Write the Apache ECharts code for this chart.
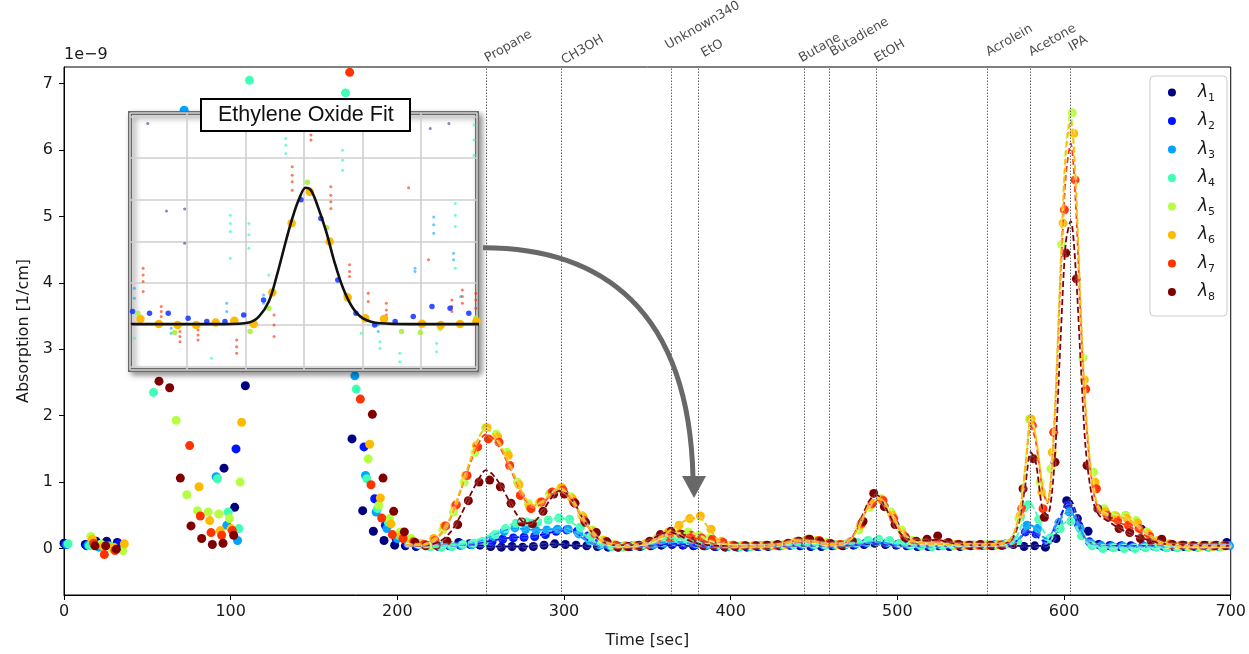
<!DOCTYPE html>
<html>
<head>
<meta charset="utf-8">
<script src="https://cdn.jsdelivr.net/npm/echarts@6.0.0/dist/echarts.min.js"></script>
<style>
html, body { margin: 0; padding: 0; background: #fff; }
#chart { width: 1249px; height: 654px; }
</style>
</head>
<body>
<div id="chart"></div>
<script>
// ---------------- data ----------------
const lambdaNames = ['λ1', 'λ2', 'λ3', 'λ4', 'λ5', 'λ6', 'λ7', 'λ8'];
const lambdaColors = ['#000080', '#0014ff', '#00a4ff', '#40ffb5', '#b5ff40', '#ffba00', '#ff3300', '#800000'];

// one scan cycle takes 6.4 s; each wavelength is read a little later inside the cycle
const CYCLE = 6.4;
const scanOffset = [0, 0.8, 1.7, 2.5, 3.3, 4.2, 5.0, 5.8];

// absorption (x1e-9 1/cm) per scan cycle, one array per wavelength
const l1 = [
  0.08, null, 0.06, 0.11, 0.11, 0.09, null, null, 4.2, 5.0,
  4.8, 5.2, 4.5, 3.9, 3.3, 1.21, 0.62, 2.45, 3.6, 4.8,
  5.5, 6.0, 6.3, 5.9, 5.2, 4.4, 3.4, 1.65, 0.57, 0.26,
  0.12, 0.05, 0.04, 0.03, 0.05, 0.04, 0.06, 0.09, 0.07, 0.05,
  0.03, 0.02, 0.03, 0.02, 0.03, 0.05, 0.07, 0.06, 0.05, 0.04,
  0.03, 0.02, 0.02, 0.03, 0.03, 0.04, 0.05, 0.06, 0.05, 0.04,
  0.04, 0.03, 0.02, 0.03, 0.02, 0.03, 0.03, 0.04, 0.05, 0.04,
  0.03, 0.03, 0.04, 0.04, 0.05, 0.06, 0.08, 0.06, 0.05, 0.04,
  0.03, 0.03, 0.04, 0.03, 0.03, 0.04, 0.05, 0.04, 0.05, 0.06,
  0.03, 0.04, 0.02, 0.15, 0.72, 0.45, 0.26, 0.06, 0.04, 0.03,
  0.04, 0.29, 0.06, 0.04, 0.03, 0.03, 0.03, 0.04, 0.05, 0.09
];
const l2 = [
  0.06, null, 0.04, 0.06, 0.05, 0.07, null, null, 3.9, 4.6,
  4.5, 4.8, 4.1, 3.5, 3.0, 2.9, 1.5, 3.4, 4.2, 5.1,
  5.8, 6.2, 6.0, 5.6, 4.9, 4.1, 3.3, 3.0, 1.53, 0.75,
  0.35, 0.15, 0.08, 0.05, 0.04, 0.03, 0.04, 0.05, 0.06, 0.08,
  0.1, 0.14, 0.16, 0.17, 0.18, 0.21, 0.26, 0.28, 0.26, 0.19,
  0.09, 0.05, 0.03, 0.03, 0.04, 0.05, 0.07, 0.08, 0.06, 0.05,
  0.04, 0.03, 0.03, 0.02, 0.03, 0.03, 0.04, 0.04, 0.05, 0.05,
  0.04, 0.04, 0.05, 0.05, 0.06, 0.08, 0.1, 0.08, 0.06, 0.05,
  0.04, 0.04, 0.05, 0.04, 0.04, 0.05, 0.05, 0.05, 0.06, 0.1,
  0.25, 0.22, 0.1, 0.3, 0.65, 0.35, 0.1, 0.05, 0.04, 0.04,
  0.03, 0.04, 0.04, 0.03, 0.03, 0.04, 0.03, 0.04, 0.04, 0.05
];
const l3 = [
  0.06, null, 0.05, 0.02, 0.04, null, null, null, 3.6, 4.4,
  4.9, 6.6, 3.8, 3.1, 1.08, 0.35, 0.12, 4.2, 5.0, 5.6,
  6.1, 6.4, 6.3, 5.8, 5.0, 4.0, 3.2, 2.6, 1.1, 0.55,
  0.3, 0.15, 0.1, 0.06, 0.04, 0.03, 0.04, 0.05, 0.06, 0.1,
  0.18, 0.26, 0.31, 0.29, 0.27, 0.28, 0.29, 0.29, 0.22, 0.12,
  0.05, 0.03, 0.03, 0.04, 0.05, 0.06, 0.08, 0.1, 0.09, 0.07,
  0.05, 0.04, 0.03, 0.03, 0.03, 0.04, 0.04, 0.05, 0.06, 0.06,
  0.05, 0.05, 0.05, 0.06, 0.07, 0.09, 0.1, 0.09, 0.07, 0.05,
  0.04, 0.04, 0.05, 0.05, 0.04, 0.05, 0.05, 0.06, 0.07, 0.12,
  0.35, 0.3, 0.12, 0.39, 0.55, 0.3, 0.08, 0.04, 0.03, 0.03,
  0.02, 0.03, 0.03, 0.02, 0.02, 0.03, 0.02, 0.02, 0.03, 0.04
];
const l4 = [
  0.07, null, 0.04, 0.06, 0.03, null, null, null, 2.35, 3.5,
  3.3, 3.4, 3.2, 2.9, 1.05, 0.55, 0.3, 7.05, 5.5, 5.9,
  6.2, 6.2, 6.0, 5.7, 4.8, 4.0, 6.86, 2.4, 1.05, 0.6,
  0.4, 0.2, 0.12, 0.06, 0.03, 0.02, 0.03, 0.06, 0.08, 0.1,
  0.21, 0.3, 0.38, 0.4, 0.4, 0.43, 0.46, 0.44, 0.32, 0.18,
  0.08, 0.03, 0.02, 0.04, 0.06, 0.1, 0.16, 0.16, 0.13, 0.1,
  0.07, 0.05, 0.04, 0.03, 0.03, 0.04, 0.05, 0.05, 0.06, 0.07,
  0.06, 0.05, 0.06, 0.07, 0.09, 0.12, 0.14, 0.12, 0.08, 0.05,
  0.04, 0.03, 0.04, 0.04, 0.04, 0.05, 0.05, 0.05, 0.07, 0.1,
  0.66, 0.44, 0.15, 0.3, 0.41, 0.19, 0.04, 0.0, 0.01, 0.0,
  0.0, 0.01, 0.02, 0.01, 0.01, 0.02, 0.02, 0.02, 0.03, 0.04
];
const l5 = [
  null, null, 0.18, 0.06, 0.0, -0.03, null, null, 2.72, 3.0,
  1.93, 0.81, 0.57, 0.55, 0.52, 0.45, 1.0, 3.6, 4.5, 5.3,
  5.9, 6.3, 6.2, 6.1, 5.4, 4.6, 3.8, 3.2, 1.35, 0.65,
  0.45, 0.25, 0.15, 0.08, 0.05, 0.28, 0.55, 1.0, 1.45, 1.82,
  1.72, 1.45, 1.0, 0.68, 0.68, 0.82, 0.9, 0.78, 0.5, 0.28,
  0.13, 0.06, 0.04, 0.05, 0.08, 0.14, 0.2, 0.22, 0.25, 0.2,
  0.15, 0.08, 0.05, 0.04, 0.04, 0.04, 0.05, 0.06, 0.1, 0.13,
  0.12, 0.09, 0.06, 0.08, 0.28, 0.62, 0.75, 0.55, 0.28, 0.12,
  0.09, 0.08, 0.07, 0.06, 0.05, 0.05, 0.06, 0.06, 0.07, 0.45,
  1.95, 1.0, 1.2, 4.58, 6.56, 2.87, 1.15, 0.6, 0.5, 0.5,
  0.42, 0.25, 0.12, 0.06, 0.04, 0.03, 0.03, 0.04, 0.03, 0.04
];
const l6 = [
  null, null, 0.14, 0.03, 0.02, 0.07, null, null, 3.3, 3.5,
  3.1, 3.2, 0.93, 0.42, 0.27, 0.3, 1.9, 4.1, 4.8, 5.5,
  6.0, 6.2, 6.2, 5.9, 5.2, 4.4, 3.6, 3.1, 1.57, 0.76,
  0.37, 0.2, 0.1, 0.06, 0.15, 0.34, 0.64, 1.1, 1.55, 1.82,
  1.68, 1.4, 0.96, 0.63, 0.7, 0.84, 0.92, 0.75, 0.48, 0.26,
  0.12, 0.05, 0.04, 0.04, 0.08, 0.16, 0.25, 0.35, 0.45, 0.49,
  0.29, 0.11, 0.05, 0.04, 0.04, 0.05, 0.05, 0.06, 0.1, 0.12,
  0.1, 0.07, 0.06, 0.1, 0.35, 0.66, 0.74, 0.5, 0.22, 0.1,
  0.08, 0.08, 0.07, 0.06, 0.05, 0.05, 0.05, 0.06, 0.08, 0.5,
  1.95, 0.85, 1.45, 4.9, 6.25, 2.54, 1.0, 0.55, 0.48, 0.45,
  0.38, 0.22, 0.12, 0.07, 0.05, 0.04, 0.04, 0.03, 0.04, 0.04
];
const l7 = [
  null, null, 0.08, -0.09, -0.03, null, null, null, 3.1, 3.2,
  3.0, 1.55, 0.49, 0.24, 0.2, 0.27, 2.72, 4.4, 5.0, 5.7,
  6.2, 6.4, 6.3, 6.0, 5.5, 4.7, 7.17, 2.25, 0.96, 0.46,
  0.21, 0.15, 0.1, 0.06, 0.12, 0.34, 0.66, 1.1, 1.53, 1.65,
  1.6, 1.25, 0.8, 0.6, 0.7, 0.85, 0.88, 0.7, 0.42, 0.22,
  0.1, 0.05, 0.03, 0.04, 0.06, 0.1, 0.16, 0.22, 0.2, 0.16,
  0.14, 0.09, 0.05, 0.04, 0.04, 0.04, 0.05, 0.07, 0.11, 0.14,
  0.12, 0.08, 0.06, 0.1, 0.38, 0.68, 0.72, 0.45, 0.18, 0.1,
  0.08, 0.09, 0.08, 0.06, 0.05, 0.05, 0.05, 0.05, 0.08, 0.6,
  1.85, 0.6, 1.75, 5.1, 5.55, 2.4, 0.9, 0.5, 0.42, 0.35,
  0.3, 0.18, 0.1, 0.06, 0.05, 0.04, 0.04, 0.04, 0.05, 0.04
];
const l8 = [
  null, null, 0.04, 0.04, -0.01, null, null, null, 2.52, 2.42,
  1.06, 0.34, 0.15, 0.06, 0.08, 0.2, 3.3, 4.6, 5.2, 5.8,
  6.2, 6.3, 6.2, 5.9, 5.4, 4.5, 3.8, 3.0, 2.02, 1.06,
  0.56, 0.25, 0.09, 0.04, 0.05, 0.11, 0.36, 0.72, 1.0, 1.03,
  0.93, 0.68, 0.4, 0.37, 0.56, 0.82, 0.82, 0.68, 0.39, 0.24,
  0.1, 0.02, 0.03, 0.05, 0.11, 0.21, 0.26, 0.21, 0.11, 0.05,
  0.04, 0.03, 0.03, 0.04, 0.04, 0.05, 0.06, 0.08, 0.11, 0.14,
  0.1, 0.07, 0.05, 0.11, 0.41, 0.83, 0.63, 0.36, 0.16, 0.11,
  0.14, 0.19, 0.09, 0.06, 0.05, 0.06, 0.05, 0.05, 0.07, 0.9,
  1.35, 0.47, 1.3, 4.45, 4.06, 1.25, 0.6, 0.47, 0.3, 0.24,
  0.15, 0.12, 0.14, 0.06, 0.05, 0.04, 0.05, 0.04, 0.04, 0.05
];

// fitted peak model per wavelength, sampled at these times (s)
const fitKnots = [
  205, 215, 225, 232, 238, 244, 249, 253, 257, 262,
  267, 272, 277, 282, 287, 292, 297, 302, 307, 312,
  317, 322, 330, 340, 350, 357, 363, 369, 375, 381,
  387, 393, 400, 415, 430, 440, 450, 460, 468, 474,
  479, 484, 488, 492, 497, 502, 508, 516, 524, 532,
  545, 560, 568, 573, 577, 580, 583, 587, 590, 594,
  598, 601, 604, 607, 610, 613, 617, 621, 626, 632,
  640, 650, 660, 675, 700
];
const fit1 = [
  0.04, 0.04, 0.05, 0.06, 0.07, 0.06, 0.05, 0.04, 0.03, 0.03,
  0.03, 0.03, 0.03, 0.04, 0.05, 0.06, 0.06, 0.05, 0.04, 0.04,
  0.03, 0.03, 0.03, 0.03, 0.04, 0.05, 0.05, 0.05, 0.04, 0.04,
  0.03, 0.03, 0.03, 0.03, 0.04, 0.04, 0.04, 0.04, 0.04, 0.05,
  0.06, 0.07, 0.07, 0.06, 0.05, 0.04, 0.04, 0.03, 0.03, 0.04,
  0.04, 0.05, 0.04, 0.04, 0.04, 0.04, 0.04, 0.04, 0.05, 0.15,
  0.45, 0.68, 0.72, 0.55, 0.3, 0.14, 0.07, 0.05, 0.04, 0.04,
  0.04, 0.04, 0.04, 0.04, 0.05
];
const fit2 = [
  0.05, 0.04, 0.04, 0.04, 0.05, 0.06, 0.08, 0.1, 0.12, 0.14,
  0.16, 0.17, 0.18, 0.19, 0.21, 0.24, 0.27, 0.27, 0.23, 0.16,
  0.09, 0.05, 0.03, 0.04, 0.05, 0.06, 0.07, 0.07, 0.06, 0.05,
  0.04, 0.03, 0.03, 0.03, 0.04, 0.05, 0.05, 0.05, 0.05, 0.06,
  0.07, 0.09, 0.09, 0.08, 0.06, 0.05, 0.04, 0.04, 0.04, 0.04,
  0.05, 0.05, 0.07, 0.14, 0.24, 0.25, 0.2, 0.12, 0.1, 0.3,
  0.5, 0.63, 0.65, 0.45, 0.25, 0.12, 0.06, 0.04, 0.04, 0.04,
  0.03, 0.04, 0.03, 0.04, 0.05
];
const fit3 = [
  0.05, 0.04, 0.04, 0.05, 0.06, 0.08, 0.11, 0.15, 0.2, 0.25,
  0.29, 0.3, 0.29, 0.28, 0.28, 0.29, 0.29, 0.28, 0.23, 0.14,
  0.07, 0.04, 0.03, 0.04, 0.06, 0.08, 0.1, 0.1, 0.08, 0.06,
  0.05, 0.04, 0.03, 0.04, 0.05, 0.06, 0.05, 0.05, 0.06, 0.07,
  0.08, 0.1, 0.1, 0.09, 0.07, 0.05, 0.04, 0.04, 0.05, 0.05,
  0.05, 0.05, 0.07, 0.15, 0.3, 0.35, 0.3, 0.18, 0.15, 0.3,
  0.45, 0.53, 0.55, 0.43, 0.28, 0.15, 0.06, 0.03, 0.03, 0.02,
  0.02, 0.02, 0.02, 0.02, 0.03
];
const fit4 = [
  0.05, 0.03, 0.03, 0.05, 0.07, 0.1, 0.14, 0.18, 0.22, 0.28,
  0.35, 0.4, 0.43, 0.43, 0.43, 0.45, 0.46, 0.43, 0.35, 0.22,
  0.12, 0.06, 0.03, 0.04, 0.07, 0.12, 0.16, 0.15, 0.12, 0.09,
  0.06, 0.05, 0.04, 0.04, 0.05, 0.06, 0.06, 0.06, 0.07, 0.08,
  0.1, 0.13, 0.14, 0.13, 0.1, 0.07, 0.05, 0.04, 0.04, 0.04,
  0.05, 0.05, 0.07, 0.25, 0.55, 0.66, 0.55, 0.3, 0.2, 0.22,
  0.33, 0.4, 0.42, 0.33, 0.2, 0.1, 0.05, 0.03, 0.02, 0.01,
  0.01, 0.01, 0.02, 0.02, 0.03
];
const fit5 = [
  0.05, 0.05, 0.18, 0.46, 0.88, 1.33, 1.68, 1.8, 1.74, 1.52,
  1.25, 0.98, 0.74, 0.64, 0.7, 0.82, 0.9, 0.83, 0.63, 0.41,
  0.24, 0.12, 0.05, 0.04, 0.07, 0.14, 0.2, 0.23, 0.24, 0.2,
  0.12, 0.07, 0.05, 0.04, 0.06, 0.12, 0.1, 0.06, 0.08, 0.2,
  0.44, 0.66, 0.75, 0.69, 0.5, 0.27, 0.13, 0.08, 0.07, 0.06,
  0.05, 0.06, 0.15, 0.5, 1.3, 1.95, 1.72, 0.98, 0.72, 1.88,
  4.34, 6.05, 6.58, 5.57, 3.67, 2.2, 1.0, 0.6, 0.52, 0.5,
  0.42, 0.22, 0.07, 0.04, 0.04
];
const fit6 = [
  0.05, 0.05, 0.2, 0.48, 0.9, 1.35, 1.68, 1.8, 1.74, 1.55,
  1.28, 1.0, 0.75, 0.65, 0.7, 0.83, 0.9, 0.84, 0.65, 0.43,
  0.25, 0.13, 0.05, 0.04, 0.08, 0.16, 0.26, 0.36, 0.45, 0.46,
  0.3, 0.12, 0.05, 0.04, 0.06, 0.12, 0.1, 0.06, 0.08, 0.2,
  0.45, 0.68, 0.76, 0.7, 0.5, 0.28, 0.13, 0.08, 0.07, 0.06,
  0.05, 0.06, 0.15, 0.5, 1.3, 1.95, 1.7, 0.95, 0.7, 1.85,
  4.3, 5.95, 6.45, 5.5, 3.6, 2.1, 1.0, 0.6, 0.5, 0.48,
  0.42, 0.22, 0.07, 0.04, 0.04
];
const fit7 = [
  0.05, 0.05, 0.19, 0.46, 0.87, 1.3, 1.6, 1.72, 1.67, 1.5,
  1.24, 0.96, 0.72, 0.63, 0.68, 0.8, 0.87, 0.81, 0.62, 0.41,
  0.24, 0.12, 0.05, 0.04, 0.08, 0.16, 0.21, 0.2, 0.17, 0.14,
  0.09, 0.05, 0.04, 0.04, 0.06, 0.12, 0.1, 0.06, 0.08, 0.21,
  0.46, 0.68, 0.73, 0.66, 0.47, 0.26, 0.12, 0.08, 0.07, 0.06,
  0.05, 0.06, 0.15, 0.48, 1.25, 1.85, 1.62, 0.9, 0.68, 1.75,
  4.1, 5.6, 6.1, 5.2, 3.45, 2.0, 0.95, 0.56, 0.45, 0.4,
  0.32, 0.18, 0.07, 0.04, 0.04
];
const fit8 = [
  0.05, 0.04, 0.1, 0.25, 0.5, 0.82, 1.05, 1.18, 1.12, 0.95,
  0.72, 0.5, 0.38, 0.4, 0.55, 0.75, 0.87, 0.82, 0.65, 0.42,
  0.24, 0.12, 0.05, 0.05, 0.1, 0.2, 0.25, 0.2, 0.12, 0.07,
  0.05, 0.04, 0.04, 0.04, 0.06, 0.12, 0.1, 0.06, 0.08, 0.22,
  0.5, 0.75, 0.8, 0.66, 0.42, 0.22, 0.13, 0.12, 0.13, 0.08,
  0.05, 0.06, 0.12, 0.4, 1.0, 1.45, 1.3, 0.6, 0.5, 1.2,
  3.2, 4.6, 4.93, 4.2, 2.8, 1.5, 0.75, 0.5, 0.42, 0.32,
  0.22, 0.13, 0.07, 0.05, 0.04
];

// retention times of the identified compounds (s)
const peakNames = ['Propane', 'CH3OH', 'Unknown340', 'EtO', 'Butane', 'Butadiene', 'EtOH', 'Acrolein', 'Acetone', 'IPA'];
const peakTimes = [253.2, 298.5, 364.4, 380.7, 444, 459, 487.2, 553.9, 580, 603.6];

// axis ticks
const xTicks = [0, 100, 200, 300, 400, 500, 600, 700];
const yTicks = [0, 1, 2, 3, 4, 5, 6, 7];

// ethylene oxide close-up: fitted curve [t, absorption]
const etoFit = [
  [350.4, 0.002], [366.5, 0.002], [370.6, 0.006], [372.3, 0.02], [374.0, 0.056],
  [375.4, 0.12], [376.9, 0.2], [378.0, 0.255], [379.2, 0.303], [380.3, 0.329],
  [381.2, 0.323], [382.3, 0.287], [383.8, 0.224], [385.2, 0.152], [386.7, 0.088],
  [388.4, 0.04], [390.1, 0.016], [393.0, 0.004], [398.1, 0.002], [410.2, 0.002]
];
// close-up measurements
const etoL6 = [
  [352.05, 0.014], [355.2, 0.002], [358.4, 0], [361.6, 0], [364.9, 0.006], [368.1, 0.01],
  [371.4, 0.002], [374.6, 0.078], [377.9, 0.244], [381.0, 0.319], [384.4, 0.2], [387.5, 0.066],
  [390.5, 0.016], [393.7, 0.014], [400.2, 0.003], [403.4, 0], [406.7, 0.002], [409.5, 0.008]
];
const etoL2 = [
  [350.7, 0.032], [353.6, 0.028], [356.8, 0.028], [360.2, 0.016], [363.4, 0.008], [366.5, 0.008],
  [369.7, 0.024], [373.1, 0.06], [379.5, 0.3], [382.9, 0.255], [385.8, 0.108], [388.9, 0.028],
  [392.1, 0], [395.6, 0.008], [398.7, 0.02], [401.9, 0.044], [405.0, 0.04], [408.2, 0.028]
];
const etoL5 = [
  [351.6, 0.028], [357.9, -0.018], [370.8, -0.016], [374.0, 0.04], [380.6, 0.342], [383.9, 0.233],
  [387.2, 0.072], [396.7, -0.016], [399.9, -0.018], [403.3, -0.008], [409.4, 0.016]
];
const etoL7 = [
  [352.5, 0.136], [352.5, 0.12], [352.5, 0.104], [352.5, 0.08],
  [355.6, 0.044], [355.6, 0.032], [355.6, 0.02],
  [358.8, -0.016], [358.8, -0.028], [358.8, -0.04],
  [361.9, -0.012], [361.9, -0.024], [361.9, -0.036],
  [368.5, -0.036], [368.5, -0.052], [368.5, -0.068],
  [374.9, 0.024], [374.9, 0], [374.9, -0.028],
  [378.0, 0.379], [378.0, 0.359], [378.0, 0.343], [378.0, 0.323],
  [381.2, 0.455], [381.2, 0.443],
  [384.6, 0.331], [384.6, 0.311], [384.6, 0.295], [384.6, 0.279],
  [387.8, 0.144], [387.8, 0.128], [387.8, 0.116],
  [391.0, 0.076], [391.0, 0.056],
  [394.1, 0.052], [394.1, 0.036], [394.1, 0.024],
  [397.9, 0.329], [401.3, 0.156],
  [405.3, 0.06], [405.3, 0.044], [405.3, 0.032],
  [407.1, 0.084], [407.1, 0.068], [407.1, 0.052],
  [409.4, 0.076], [409.4, 0.06], [409.4, 0.04]
];
const etoL4 = [
  [351.0, -0.032], [364.2, -0.08],
  [367.4, 0.263], [367.4, 0.243], [367.4, 0.224], [367.4, 0.16],
  [370.6, 0.243], [370.6, 0.216], [370.6, 0.184],
  [374.0, 0.12],
  [376.9, 0.447], [376.9, 0.431], [376.9, 0.411],
  [386.6, 0.419], [386.6, 0.395], [386.6, 0.371],
  [389.8, -0.02], [393.0, -0.04], [393.0, -0.056],
  [396.4, -0.068], [396.4, -0.088],
  [402.7, -0.044], [402.7, -0.064],
  [405.9, 0.291], [405.9, 0.263], [405.9, 0.236], [405.9, 0.136],
  [409.1, 0.479], [409.1, 0.443], [409.1, 0.407]
];
const etoL3 = [
  [351.0, 0.088], [351.0, 0.064], [357.3, -0.008], [357.3, -0.02],
  [366.8, 0.052], [366.8, 0.032], [373.1, 0.072], [373.1, 0.052],
  [392.7, 0], [392.7, -0.016], [399.0, 0.136], [399.0, 0.128],
  [402.2, 0.259], [402.2, 0.24], [402.2, 0.22],
  [405.6, 0.172], [405.6, 0.156], [406.8, 0.068]
];
const etoL1 = [
  [353.3, 0.483], [356.5, 0.273], [359.6, 0.278], [359.6, 0.196], [401.6, 0.471], [404.8, 0.483]
];

// ---------------- layout / style ----------------
const FONT = '"DejaVu Sans", sans-serif';
const TEXT = '#1a1a1a';
const Y_MIN = -0.7, Y_MAX = 7.25;
const INSET_T = [350.26, 409.6];
const INSET_V = [-0.108, 0.508];
// pixel shift of each rotated compound label from the top of its marker line
const peakLabelShift = [[3.5, -1.4], [4.8, 0.6], [-1.2, -14.4], [7.5, -6.4], [-0.2, -1.4],
                        [5.8, -7.4], [3.2, -1.4], [3.5, -7.4], [2.8, -7.4], [3.5, -12.4]];

const lambdaValues = [l1, l2, l3, l4, l5, l6, l7, l8];
const fitValues = [fit1, fit2, fit3, fit4, fit5, fit6, fit7, fit8];

function scanPoints(vals, k) {
  const pts = [];
  vals.forEach((v, i) => {
    if (v !== null) pts.push([+(i * CYCLE + scanOffset[k]).toFixed(2), v]);
  });
  return pts;
}

const series = [];

// dotted marker lines at the compound retention times
series.push({
  type: 'line', name: 'markers', data: [], xAxisIndex: 0, yAxisIndex: 0, z: 1, silent: true,
  markLine: {
    silent: true, symbol: 'none', animation: false,
    label: { show: false },
    lineStyle: { color: '#555', width: 0.9, type: [1.5, 1.5] },
    emphasis: { disabled: true },
    data: peakTimes.map(t => ({ xAxis: t }))
  }
});

// measured points
lambdaValues.forEach((vals, k) => {
  series.push({
    type: 'scatter', name: lambdaNames[k], xAxisIndex: 0, yAxisIndex: 0,
    symbol: 'circle', symbolSize: 9, z: 2, clip: true, silent: true,
    itemStyle: { color: lambdaColors[k], opacity: 1 },
    data: scanPoints(vals, k)
  });
});

// dashed fit curves
[0, 1, 2, 3, 4, 6, 7, 5].forEach(k => {
  series.push({
    type: 'line', name: 'fit ' + lambdaNames[k], xAxisIndex: 0, yAxisIndex: 0,
    smooth: 0.3, showSymbol: false, symbol: 'none', z: 3, silent: true, clip: true,
    lineStyle: { color: lambdaColors[k], width: 1.8, type: [6, 3],
                 shadowColor: 'rgba(255,255,255,0.9)', shadowBlur: 2 },
    data: fitKnots.map((t, j) => [t, fitValues[k][j]])
  });
});

// compound names above the plot
series.push({
  type: 'scatter', name: 'compounds', xAxisIndex: 0, yAxisIndex: 0, clip: false, silent: true,
  symbol: 'circle', symbolSize: 1, z: 5,
  itemStyle: { color: 'rgba(0,0,0,0)' },
  data: peakTimes.map((t, i) => ({
    value: [t, Y_MAX], name: peakNames[i],
    label: { position: peakLabelShift[i] }
  })),
  label: {
    show: true, formatter: p => p.name, rotate: 30, align: 'left', verticalAlign: 'bottom',
    fontFamily: FONT, fontSize: 12.8, color: TEXT
  }
});

// close-up panel series
const insetCommon = { type: 'scatter', xAxisIndex: 1, yAxisIndex: 1, zlevel: 1, clip: true, silent: true, symbol: 'circle' };
series.push(Object.assign({}, insetCommon, { name: 'eto λ7', symbolSize: 3, z: 2, itemStyle: { color: '#ff3300', opacity: 0.65 }, data: etoL7 }));
series.push(Object.assign({}, insetCommon, { name: 'eto λ4', symbolSize: 3, z: 2, itemStyle: { color: '#40ffb5', opacity: 0.75 }, data: etoL4 }));
series.push(Object.assign({}, insetCommon, { name: 'eto λ3', symbolSize: 3, z: 2, itemStyle: { color: '#00a4ff', opacity: 0.6 }, data: etoL3 }));
series.push(Object.assign({}, insetCommon, { name: 'eto λ1', symbolSize: 3, z: 2, itemStyle: { color: '#3333a0', opacity: 0.6 }, data: etoL1 }));
series.push(Object.assign({}, insetCommon, { name: 'eto λ2', symbolSize: 5.5, z: 3, itemStyle: { color: '#1030ff', opacity: 0.85 }, data: etoL2 }));
series.push(Object.assign({}, insetCommon, { name: 'eto λ5', symbolSize: 5.5, z: 3, itemStyle: { color: '#a8f040', opacity: 0.9 }, data: etoL5 }));
series.push(Object.assign({}, insetCommon, { name: 'eto λ6', symbolSize: 8.5, z: 4, itemStyle: { color: '#ffba00', opacity: 1 }, data: etoL6 }));
series.push({
  type: 'line', name: 'eto fit', xAxisIndex: 1, yAxisIndex: 1, zlevel: 1, z: 5, silent: true,
  smooth: 0.35, showSymbol: false, symbol: 'none', clip: true,
  lineStyle: { color: '#111', width: 2.6 },
  data: etoFit
});

const option = {
  animation: false,
  backgroundColor: '#fff',
  textStyle: { fontFamily: FONT },
  title: [{
    text: 'Ethylene Oxide Fit', left: 201, top: 99,
    padding: [5, 17, 5, 17], backgroundColor: '#fff', borderColor: '#000', borderWidth: 2,
    textStyle: { fontFamily: '"Liberation Sans", Arial, sans-serif', fontSize: 21.5, fontWeight: 'normal', color: '#111' },
    zlevel: 1, z: 10
  }],
  legend: {
    data: lambdaNames, orient: 'vertical', right: 22, top: 76,
    backgroundColor: '#fff', borderColor: '#cccccc', borderWidth: 1, borderRadius: 4,
    padding: [8, 12, 13, 18], itemGap: 9, itemWidth: 42, itemHeight: 8, icon: 'circle',
    selectedMode: false,
    formatter: name => '{l|λ}{s|' + name.slice(1) + '}',
    textStyle: {
      rich: {
        l: { fontFamily: FONT, fontStyle: 'italic', fontSize: 17, lineHeight: 22, color: TEXT },
        s: { fontFamily: FONT, fontSize: 11, lineHeight: 12, color: TEXT, verticalAlign: 'bottom' }
      }
    }
  },
  grid: [
    { left: 64, top: 67, width: 1169, height: 534, show: true, borderColor: '#000', borderWidth: 1, backgroundColor: 'rgba(0,0,0,0)' },
    { left: 130, top: 113, width: 347, height: 257, show: true, backgroundColor: '#fff',
      borderColor: '#6b6b6b', borderWidth: 4, shadowBlur: 6, shadowColor: 'rgba(0,0,0,0.4)',
      shadowOffsetX: 3, shadowOffsetY: 3, zlevel: 1, z: 0 }
  ],
  xAxis: [
    {
      gridIndex: 0, type: 'value', min: 0, max: 700, interval: 100,
      name: 'Time [sec]', nameLocation: 'middle', nameGap: 38,
      nameTextStyle: { fontFamily: FONT, fontSize: 16, color: TEXT },
      axisLine: { show: true, onZero: false, lineStyle: { color: '#000', width: 1 } },
      axisTick: { show: true, length: 5, lineStyle: { color: '#000', width: 1 }, customValues: xTicks },
      axisLabel: { fontFamily: FONT, fontSize: 16, color: TEXT, margin: 9, customValues: xTicks },
      splitLine: { show: false }
    },
    {
      gridIndex: 1, type: 'value', min: INSET_T[0], max: INSET_T[1], splitNumber: 6, zlevel: 1,
      axisLine: { show: false }, axisTick: { show: false }, axisLabel: { show: false },
      splitLine: { show: true, lineStyle: { color: '#cfcfcf', width: 1.6 } }
    }
  ],
  yAxis: [
    {
      gridIndex: 0, type: 'value', min: Y_MIN, max: Y_MAX,
      name: 'Absorption [1/cm]', nameLocation: 'middle', nameGap: 26,
      nameTextStyle: { fontFamily: FONT, fontSize: 16, color: TEXT },
      axisLine: { show: true, onZero: false, lineStyle: { color: '#000', width: 1 } },
      axisTick: { show: true, length: 5, lineStyle: { color: '#000', width: 1 }, customValues: yTicks },
      axisLabel: {
        fontFamily: FONT, fontSize: 16, color: TEXT, margin: 11, customValues: yTicks,
        formatter: v => (Math.abs(v - Math.round(v)) < 1e-6 ? String(Math.round(v)) : '')
      },
      splitLine: { show: false }
    },
    {
      gridIndex: 1, type: 'value', min: INSET_V[0], max: INSET_V[1], splitNumber: 6, zlevel: 1,
      axisLine: { show: false }, axisTick: { show: false }, axisLabel: { show: false },
      splitLine: { show: true, lineStyle: { color: '#cfcfcf', width: 1.6 } }
    }
  ],
  series: series
};

const chart = echarts.init(document.getElementById('chart'), null, { renderer: 'canvas' });
chart.setOption(option);

// curved pointer from the close-up panel to the EtO peak, plus the axis scale note
const start = chart.convertToPixel({ gridIndex: 1 }, [INSET_T[1], 0.185]);
const tip = chart.convertToPixel({ gridIndex: 0 }, [378, 0.76]);
const sx = start[0] + 6, sy = start[1];
const ex = tip[0] - 1, ey = tip[1] - 20;
chart.setOption({
  graphic: { elements: [
    {
      type: 'bezierCurve', zlevel: 1, z: 20, silent: true,
      shape: { x1: sx, y1: sy, cpx1: sx + 117, cpy1: sy, cpx2: ex - 4, cpy2: sy + 60, x2: ex, y2: ey },
      style: { stroke: '#686868', lineWidth: 5, fill: null }
    },
    {
      type: 'polygon', zlevel: 1, z: 20, silent: true,
      shape: { points: [[tip[0] - 12, tip[1] - 22], [tip[0] + 12, tip[1] - 22], [tip[0], tip[1]]] },
      style: { fill: '#686868' }
    },
    {
      type: 'text', left: 64, top: 47, silent: true,
      style: { text: '1e\u22129', font: '16px "DejaVu Sans", sans-serif', fill: TEXT }
    }
  ] }
});
</script>
</body>
</html>
